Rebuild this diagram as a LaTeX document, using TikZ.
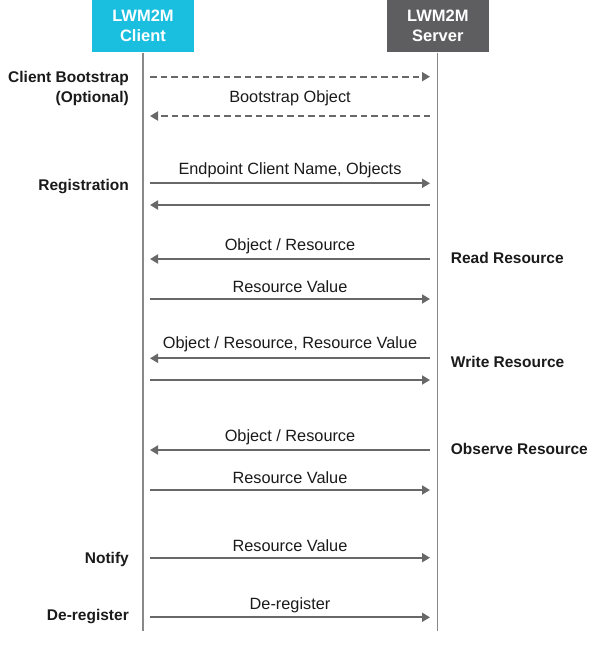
\documentclass[tikz,border=0pt]{standalone}
\usepackage{fontspec}
\setmainfont{Liberation Sans}
\usetikzlibrary{arrows.meta}
\definecolor{clientcyan}{HTML}{1ABFE0}
\definecolor{servergray}{HTML}{5E5E60}
\definecolor{linegray}{HTML}{686868}
\definecolor{lifegray}{HTML}{888888}
\definecolor{txt}{HTML}{1A1A1A}
\begin{document}
\begin{tikzpicture}[x=1pt,y=-1pt,
  hdr/.style={minimum width=102pt,minimum height=52.3pt,inner sep=0pt,text=white,
    align=center,font=\fontsize{16.5}{20}\selectfont\bfseries},
  life/.style={draw=lifegray,line width=1.5pt},
  msg/.style={draw=linegray,line width=1.8pt,-{Triangle[length=8pt,width=9pt]}},
  dmsg/.style={msg,dash pattern=on 6.5pt off 4pt},
  lbl/.style={anchor=base,inner sep=0pt,text=txt,font=\fontsize{16.3}{19}\selectfont},
  side/.style={inner sep=0pt,text=txt,font=\fontsize{15.5}{19}\selectfont\bfseries},
  lside/.style={side,anchor=base east},
  rside/.style={side,anchor=base west}]
\useasboundingbox (0,0) rectangle (601,664);
% headers
\node[hdr,fill=clientcyan] (client) at (143,26.15) {LWM2M\\Client};
\node[hdr,fill=servergray] (server) at (437.8,26.15) {LWM2M\\Server};
\coordinate (cend) at (143,630.7);
\coordinate (send) at (437.3,630.7);
\draw[life] (client.south) -- (cend);
\draw[life] (server.south -| send) -- (send);
% message end points
\foreach \n/\y in {1/76.7,2/116,3/183.3,4/205,5/259,6/299,7/358.3,8/380,9/450,10/490,11/557.7,12/617.3}{
  \coordinate (c\n) at (150,\y);
  \coordinate (s\n) at (430,\y);
}
% messages
\draw[dmsg] (c1) -- (s1);
\draw[dmsg] (s2) -- (c2);
\draw[msg] (c3) -- (s3);
\draw[msg] (s4) -- (c4);
\draw[msg] (s5) -- (c5);
\draw[msg] (c6) -- (s6);
\draw[msg] (s7) -- (c7);
\draw[msg] (c8) -- (s8);
\draw[msg] (s9) -- (c9);
\draw[msg] (c10) -- (s10);
\draw[msg] (c11) -- (s11);
\draw[msg] (c12) -- (s12);
% message labels
\node[lbl] (l2) at (290,102.2) {Bootstrap Object};
\node[lbl] (l3) at (290,174.3) {Endpoint Client Name, Objects};
\node[lbl] (l5) at (290,250.5) {Object / Resource};
\node[lbl] (l6) at (290,292.5) {Resource Value};
\node[lbl] (l7) at (290,348.8) {Object / Resource, Resource Value};
\node[lbl] (l9) at (290,441.5) {Object / Resource};
\node[lbl] (l10) at (290,483.2) {Resource Value};
\node[lbl] (l11) at (290,551.2) {Resource Value};
\node[lbl] (l12) at (290,609.5) {De-register};
% side labels
\node[lside] (boot) at (129,82.2) {Client Bootstrap};
\node[lside] (opt) at (129,102.2) {(Optional)};
\node[lside] (reg) at (129,190.5) {Registration};
\node[lside] (notify) at (129,563.8) {Notify};
\node[lside] (dereg) at (129,620.3) {De-register};
\node[rside] (read) at (450.7,263.8) {Read Resource};
\node[rside] (write) at (450.7,367.8) {Write Resource};
\node[rside] (observe) at (450.7,454.8) {Observe Resource};
\end{tikzpicture}
\end{document}
